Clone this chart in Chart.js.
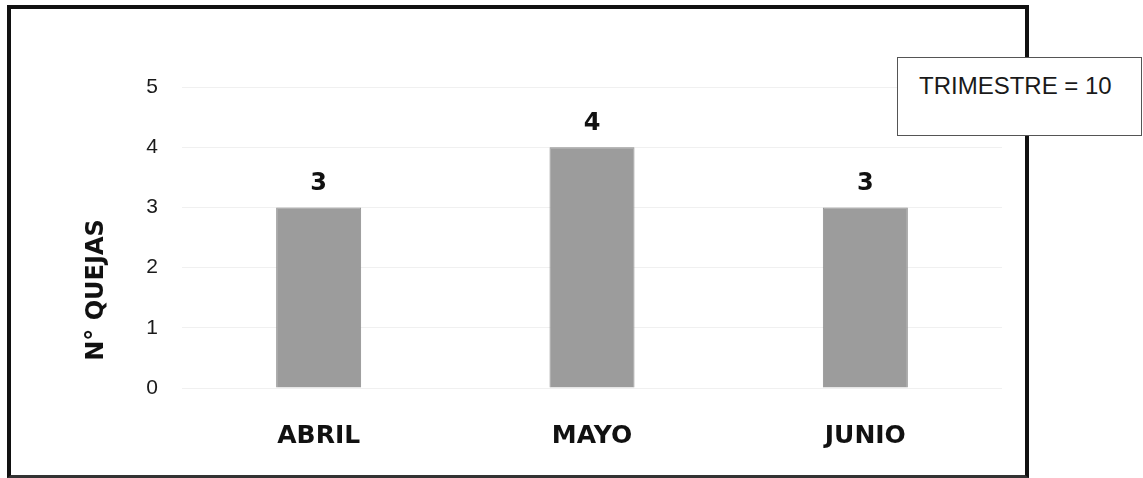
<!DOCTYPE html>
<html>
<head>
<meta charset="utf-8">
<title>Quejas por mes</title>
<script src="https://cdn.jsdelivr.net/npm/chart.js"></script>
<style>
  html, body { margin: 0; padding: 0; background: #fff; }
  #wrap { position: relative; width: 1143px; height: 478px; overflow: hidden; background: #fff; }
  #chart { position: absolute; left: 0; top: 0; }
  #frame {
    position: absolute; left: 7px; top: 5px; width: 1022px; height: 473px;
    box-sizing: border-box; border: 4px solid #111; border-bottom: 3px solid #333; pointer-events: none;
  }
  #total {
    position: absolute; left: 897px; top: 57px; width: 245px; height: 79px;
    box-sizing: border-box; border: 1.5px solid #555; background: #fff;
    font-family: "Liberation Sans", Arial, sans-serif; font-size: 24px; line-height: 24px;
    padding: 16px 0 0 21px; color: #1a1a1a; white-space: nowrap;
  }
</style>
</head>
<body>
<div id="wrap">
  <canvas id="chart" width="1143" height="478"></canvas>
  <div id="frame"></div>
  <div id="total"></div>
</div>
<script>
// Monthly complaints for the quarter
const categories = ['ABRIL', 'MAYO', 'JUNIO'];
const quejas = [3, 4, 3];
const yTicks = [0, 1, 2, 3, 4, 5];
const yTitle = 'N° QUEJAS';

const total = quejas.reduce((a, b) => a + b, 0);
document.getElementById('total').textContent = 'TRIMESTRE = ' + total;

// Bold value printed above each bar
const valueLabels = {
  id: 'valueLabels',
  afterDatasetsDraw(chart) {
    const ctx = chart.ctx;
    const meta = chart.getDatasetMeta(0);
    const values = chart.data.datasets[0].data;
    ctx.save();
    ctx.font = 'bold 24px "DejaVu Sans", Verdana, sans-serif';
    ctx.fillStyle = '#111';
    ctx.textAlign = 'center';
    ctx.textBaseline = 'alphabetic';
    meta.data.forEach((bar, i) => {
      ctx.fillText(String(values[i]), bar.x, bar.y - 17);
    });
    ctx.restore();
  }
};

// Rotated y-axis title, sitting low beside the axis
const axisTitle = {
  id: 'axisTitle',
  afterDraw(chart) {
    const ctx = chart.ctx;
    const a = chart.chartArea;
    ctx.save();
    ctx.translate(a.left - 79, a.bottom - 98);
    ctx.rotate(-Math.PI / 2);
    ctx.font = 'bold 24px "DejaVu Sans", Verdana, sans-serif';
    ctx.fillStyle = '#111';
    ctx.textAlign = 'center';
    ctx.textBaseline = 'alphabetic';
    ctx.fillText(yTitle, 0, 0);
    ctx.restore();
  }
};

new Chart(document.getElementById('chart'), {
  type: 'bar',
  data: {
    labels: categories,
    datasets: [{
      data: quejas,
      backgroundColor: '#9c9c9c',
      borderColor: '#8d8d8d',
      borderWidth: 1,
      categoryPercentage: 1,
      barPercentage: 0.311
    }]
  },
  options: {
    responsive: false,
    animation: false,
    devicePixelRatio: 1,
    layout: { padding: { left: 0, right: 141, top: 87, bottom: 0 } },
    plugins: { legend: { display: false }, tooltip: { enabled: false } },
    scales: {
      x: {
        grid: { display: false },
        border: { display: false },
        ticks: {
          color: '#111',
          padding: 25,
          font: { family: '"DejaVu Sans", Verdana, sans-serif', size: 25, weight: 'bold' }
        },
        afterFit(scale) { scale.height = 90; }
      },
      y: {
        min: 0,
        max: 5,
        border: { display: false },
        grid: { color: '#f0f0f0', lineWidth: 1, drawTicks: false },
        ticks: {
          color: '#1a1a1a',
          padding: 24,
          font: { family: '"Liberation Sans", Arial, sans-serif', size: 21 }
        },
        afterBuildTicks(scale) { scale.ticks = yTicks.map(v => ({ value: v })); },
        afterFit(scale) { scale.width = 182; }
      }
    }
  },
  plugins: [valueLabels, axisTitle]
});
</script>
</body>
</html>
